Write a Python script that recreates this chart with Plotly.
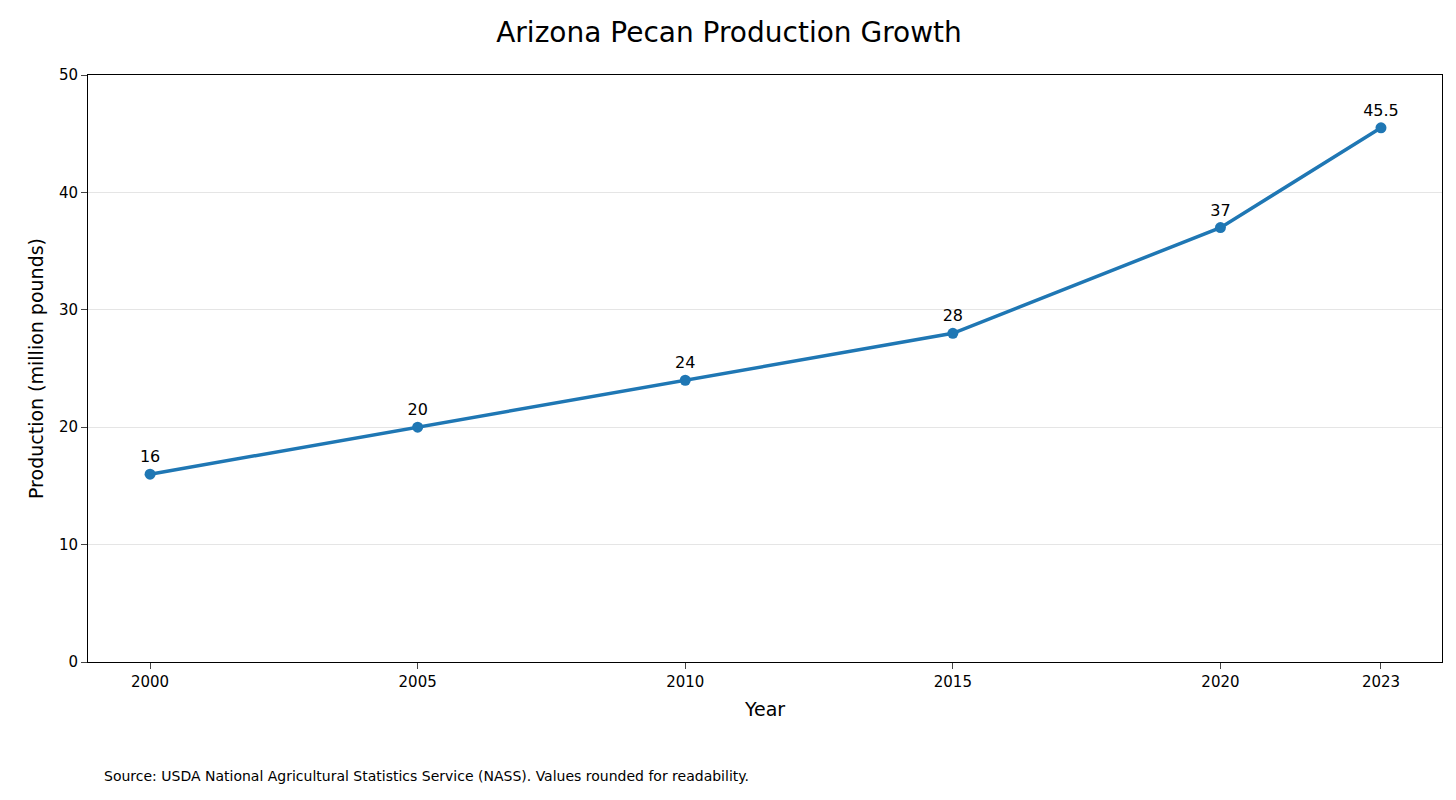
import plotly.graph_objects as go

years = [2000, 2005, 2010, 2015, 2020, 2023]
production = [16, 20, 24, 28, 37, 45.5]
labels = ["16", "20", "24", "28", "37", "45.5"]

fig = go.Figure(go.Scatter(
    x=years, y=production, mode="lines+markers+text",
    text=labels, textposition="top center",
    textfont=dict(size=16, color="black"),
    line=dict(color="#1f77b4", width=3.5),
    marker=dict(color="#1f77b4", size=11),
    cliponaxis=False,
))

fig.update_layout(
    width=1442, height=786,
    margin=dict(l=80, r=8, t=67, b=132),
    plot_bgcolor="white", paper_bgcolor="white",
    font=dict(family="DejaVu Sans", color="black", size=15),
    showlegend=False,
    title=dict(text="Arizona Pecan Production Growth", x=0.5, xanchor="center",
               y=0.969, yanchor="middle", font=dict(size=28)),
)
fig.update_xaxes(range=[1998.84, 2024.14], tickvals=years, ticks="outside",
                 ticklen=6, showline=True, linecolor="black", mirror=True,
                 showgrid=False, zeroline=False,
                 title=dict(text="Year", font=dict(size=19), standoff=12))
fig.update_yaxes(range=[0, 50], dtick=10, ticks="outside", ticklen=6,
                 showline=True, linecolor="black", mirror=True,
                 gridcolor="#e5e5e5", zeroline=False,
                 title=dict(text="Production (million pounds)", font=dict(size=19), standoff=10))
fig.add_annotation(text="Source: USDA National Agricultural Statistics Service (NASS). Values rounded for readability.",
                   xref="paper", yref="paper", x=(101-87)/1354, y=-(768-654)/587,
                   xanchor="left", yanchor="middle", showarrow=False, font=dict(size=14))

fig.write_html("out.html")
